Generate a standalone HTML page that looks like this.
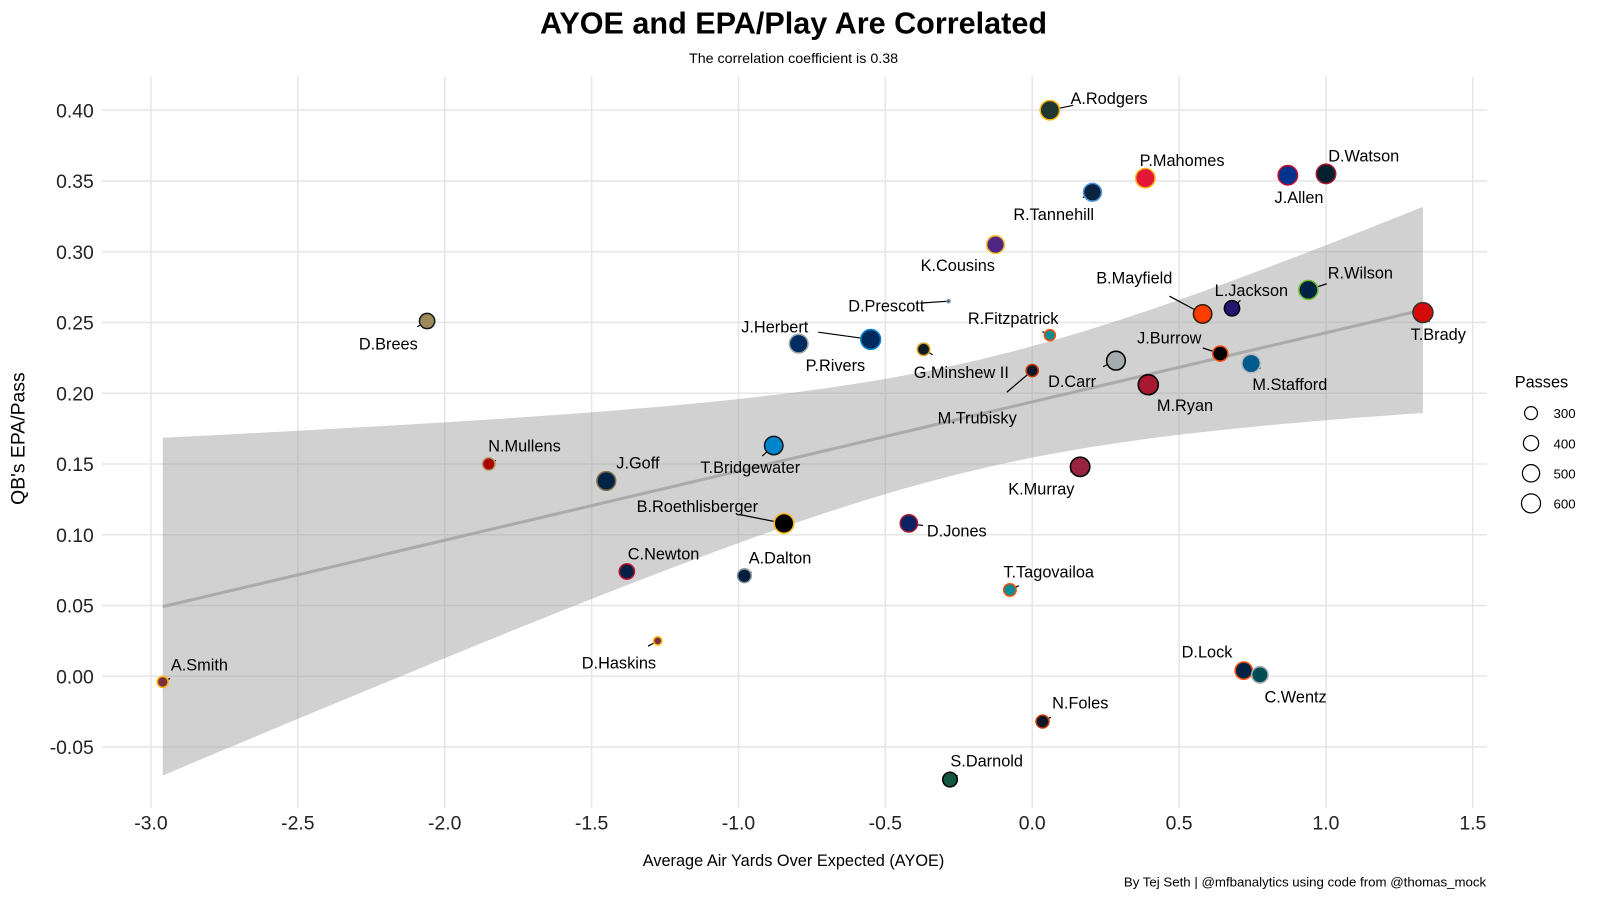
<!DOCTYPE html>
<html><head><meta charset="utf-8"><style>
body{margin:0;background:#fff;font-family:"Liberation Sans",Arial,sans-serif;}
svg text{font-family:"Liberation Sans",Arial,sans-serif;}
</style></head><body>
<svg id="chart" width="1600" height="900" viewBox="0 0 1600 900" xmlns="http://www.w3.org/2000/svg">
<rect width="1600" height="900" fill="#fff"/>
<g transform="scale(1.02)">
<text x="778" y="33" text-anchor="middle" font-size="30" font-weight="bold" fill="#000">AYOE and EPA/Play Are Correlated</text>
<text x="778" y="62" text-anchor="middle" font-size="14" fill="#000">The correlation coefficient is 0.38</text>
<text transform="translate(24,430) rotate(-90)" text-anchor="middle" font-size="19" fill="#000">QB's EPA/Pass</text>
<text x="778" y="849" text-anchor="middle" font-size="16" fill="#000">Average Air Yards Over Expected (AYOE)</text>
<text x="1457" y="869" text-anchor="end" font-size="13" fill="#000">By Tej Seth | @mfbanalytics using code from @thomas_mock</text>
<g id="grid"></g><g id="band"></g><g id="marks"></g><g id="legend"></g>
</g>
</svg>
<script>
const names=["A.Rodgers","P.Mahomes","D.Watson","J.Allen","R.Tannehill","K.Cousins","R.Wilson","L.Jackson","B.Mayfield","T.Brady","D.Prescott","R.Fitzpatrick","J.Herbert","P.Rivers","G.Minshew II","J.Burrow","D.Carr","M.Stafford","M.Trubisky","M.Ryan","D.Brees","T.Bridgewater","N.Mullens","K.Murray","J.Goff","B.Roethlisberger","D.Jones","C.Newton","A.Dalton","T.Tagovailoa","D.Haskins","A.Smith","D.Lock","C.Wentz","N.Foles","S.Darnold"];
const ayoe=[0.06,0.385,1.0,0.87,0.205,-0.125,0.94,0.68,0.58,1.33,-0.285,0.06,-0.55,-0.795,-0.37,0.64,0.285,0.745,0.0,0.395,-2.06,-0.88,-1.85,0.163,-1.45,-0.845,-0.42,-1.38,-0.98,-0.076,-1.275,-2.96,0.72,0.775,0.035,-0.28];
const epa=[0.40,0.352,0.355,0.354,0.342,0.305,0.273,0.260,0.256,0.257,0.265,0.241,0.238,0.235,0.231,0.228,0.223,0.221,0.216,0.206,0.251,0.163,0.150,0.148,0.138,0.108,0.108,0.074,0.071,0.061,0.025,-0.004,0.004,0.001,-0.032,-0.073];
const passes=[620,620,620,620,530,530,600,400,560,650,60,230,640,580,280,400,580,560,270,660,400,560,280,620,580,630,500,400,330,280,150,230,500,450,300,370];
const xTicks=[-3.0,-2.5,-2.0,-1.5,-1.0,-0.5,0.0,0.5,1.0,1.5];
const yTicks=[-0.05,0.00,0.05,0.10,0.15,0.20,0.25,0.30,0.35,0.40];
const legendVals=[300,400,500,600];
const fills=["#203731","#E31837","#03202F","#00338D","#0C2340","#4F2683","#002244","#241773","#FF3C00","#D50A0A","#003594","#008E97","#002A5E","#002C5F","#101820","#000000","#A5ACAF","#005A8B","#0B162A","#A71930","#9F8958","#0085CA","#AA0000","#97233F","#002244","#000000","#0B2265","#002244","#041E42","#008E97","#773141","#773141","#002244","#004C54","#0B162A","#125740"];
const strokes=["#FFB612","#FFB81C","#A71930","#C60C30","#4B92DB","#FFC62F","#69BE28","#000000","#311D00","#34302B","#869397","#FC4C02","#0080C6","#A2AAAD","#D7A22A","#FB4F14","#000000","#B0B7BC","#C83803","#000000","#101820","#101820","#B3995D","#000000","#866D4B","#FFB612","#A71930","#C60C30","#869397","#FC4C02","#FFB612","#FFB612","#FB4F14","#A5ACAF","#C83803","#000000"];
const lblOff=[[58,-12],[36,-18],[37,-18],[11,21],[-38,21],[-37,20],[51,-17],[19,-18],[-67,-36],[15,21],[-61,4],[-36,-17],[-94,-13],[36,21],[37,22],[-50,-16],[-43,20],[38,20],[-54,46],[36,20],[-38,22],[-23,21],[35,-18],[-38,21],[31,-18],[-85,-17],[47,7],[36,-18],[35,-18],[38,-18],[-38,21],[36,-17],[-36,-19],[35,21],[37,-19],[36,-19]];
const NS="http://www.w3.org/2000/svg";
const X=v=>1012+288*v, Y=v=>663-1387.5*v;
const R=p=>Math.sqrt(2.25+Math.max(0,(p-60))/(680-60)*97.75);
function mk(tag,attrs,parent){const e=document.createElementNS(NS,tag);for(const k in attrs)e.setAttribute(k,attrs[k]);parent.appendChild(e);return e;}
const grid=document.getElementById('grid');
xTicks.forEach(t=>{
  const l=mk('line',{x1:X(t),x2:X(t),y1:75,y2:792,stroke:'#e6e6e6','stroke-width':1.5},grid);
  
  
  const tx=mk('text',{x:X(t),y:813,'text-anchor':'middle','font-size':19,fill:'#222'},grid);
  tx.textContent=t.toFixed(1);
  
  
});
yTicks.forEach(t=>{
  const l=mk('line',{x1:100,x2:1458,y1:Y(t),y2:Y(t),stroke:'#e6e6e6','stroke-width':1.5},grid);
  
  
  const tx=mk('text',{x:92,y:Y(t)+7,'text-anchor':'end','font-size':19,fill:'#222'},grid);
  tx.textContent=t.toFixed(2);
  
  
});
const n=ayoe.length, mx=ayoe.reduce((a,b)=>a+b)/n, my=epa.reduce((a,b)=>a+b)/n;
let sxx=0,sxy=0;for(let i=0;i<n;i++){sxx+=(ayoe[i]-mx)**2;sxy+=(ayoe[i]-mx)*(epa[i]-my);}
const b=sxy/sxx,a=my-b*mx;let sse=0;for(let i=0;i<n;i++)sse+=(epa[i]-a-b*ayoe[i])**2;
const s=Math.sqrt(sse/(n-2)),tq=2.03;
const xmin=Math.min(...ayoe),xmax=Math.max(...ayoe);
let up=[],lo=[];
for(let k=0;k<=80;k++){const xv=xmin+(xmax-xmin)*k/80;const yh=a+b*xv;const se=s*Math.sqrt(1/n+(xv-mx)**2/sxx);up.push(X(xv)+','+Y(yh+tq*se));lo.unshift(X(xv)+','+Y(yh-tq*se));}
const band=document.getElementById('band');
const pg=mk('polygon',{points:up.concat(lo).join(' '),fill:'#999',opacity:0.45},band);


const rl=mk('line',{x1:X(xmin),y1:Y(a+b*xmin),x2:X(xmax),y2:Y(a+b*xmax),stroke:'#aaa','stroke-width':3},band);


const marks=document.getElementById('marks');
for(let i=0;i<n;i++){
  const cx=X(ayoe[i]),cy=Y(epa[i]),r=R(passes[i]);
  const [dx,dy]=lblOff[i];
  const dist=Math.hypot(dx,dy);
  if(dist>20){
    const f0=r/dist,f1=Math.max(f0,1-Math.min(0.75,(Math.abs(dx)>30?30:12)/dist));
    const ld=mk('line',{x1:cx+dx*f0,y1:cy+dy*f0,x2:cx+dx*(f1*0.8),y2:cy+dy*(f1*0.8),stroke:'#000','stroke-width':1.2},marks);
    
    
  }
  const c=mk('circle',{cx:cx,cy:cy,r:r,fill:fills[i],stroke:strokes[i],'stroke-width':1.5},marks);
  
  
  const t=mk('text',{x:cx+dx,y:cy+dy+6,'text-anchor':'middle','font-size':16,fill:'#000'},marks);
  t.textContent=names[i];
  
  
}
const lg=document.getElementById('legend');
const lt=mk('text',{x:1485,y:380,'font-size':16,fill:'#000'},lg);
lt.textContent='Passes';


legendVals.forEach((v,k)=>{
  const yy=405+k*29.5;
  const c=mk('circle',{cx:1501,cy:yy,r:R(v),fill:'none',stroke:'#000','stroke-width':1.2},lg);
  
  
  const t=mk('text',{x:1523,y:yy+5,'font-size':13,fill:'#000'},lg);
  t.textContent=v;
  
  
});
</script>
</body></html>
